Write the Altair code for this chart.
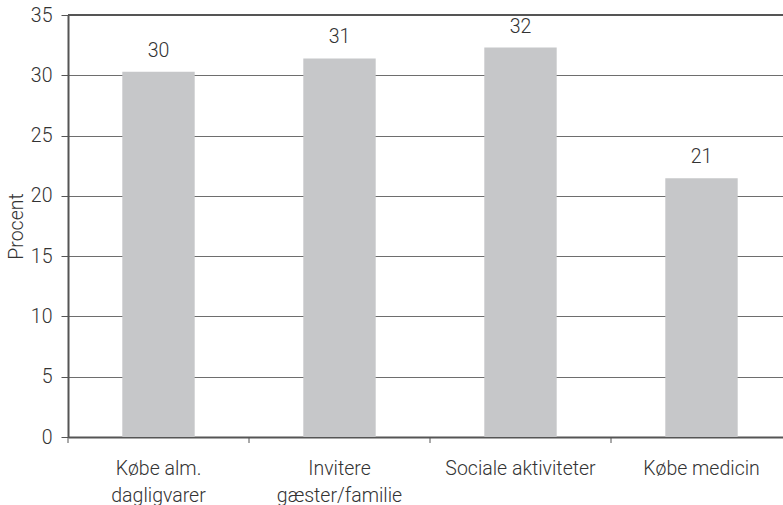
import altair as alt
import pandas as pd

# Share of respondents (percent) per activity
categories = ["Købe alm.\ndagligvarer", "Invitere\ngæster/familie", "Sociale aktiviteter", "Købe medicin"]
values = [30.3, 31.4, 32.3, 21.45]
y_ticks = [0, 5, 10, 15, 20, 25, 30, 35]

df = pd.DataFrame({"aktivitet": categories, "procent": values})

FONT = "Roboto"
WEIGHT = 300
SIZE = 19.5
TEXT = "#333333"
LINE = "#555555"

x_enc = alt.X(
    "aktivitet:N",
    sort=categories,
    scale=alt.Scale(range=[0, 724], paddingInner=0, paddingOuter=0),
    axis=alt.Axis(
        title=None,
        labelAngle=0,
        labelExpr="split(datum.label, '\\n')",
        labelFont=FONT,
        labelFontWeight=WEIGHT,
        labelFontSize=SIZE,
        labelColor=TEXT,
        labelLineHeight=27,
        labelBaseline="top",
        labelPadding=22,
        ticks=False,
        tickSize=0,
        domainColor=LINE,
        domainWidth=2,
        grid=False,
    ),
)

y_enc = alt.Y(
    "procent:Q",
    scale=alt.Scale(domain=[0, 35], nice=False),
    axis=alt.Axis(
        title="Procent",
        titleFont=FONT,
        titleFontSize=SIZE,
        titleFontWeight=WEIGHT,
        titleColor=TEXT,
        titleAngle=-90,
        titleAlign="center",
        titleBaseline="alphabetic",
        titleX=-46,
        titleY=211,
        values=y_ticks,
        labelFont=FONT,
        labelFontWeight=WEIGHT,
        labelFontSize=SIZE,
        labelColor=TEXT,
        labelPadding=9,
        tickSize=7,
        tickColor=LINE,
        tickWidth=1,
        domainColor=LINE,
        domainWidth=2,
        grid=True,
        gridColor="#6e6e6e",
        gridWidth=1,
    ),
)

base = alt.Chart(df)

bars = base.mark_bar(color="#c6c7c9", width=alt.RelativeBandSize(0.4)).encode(x=x_enc, y=y_enc)

labels = base.mark_text(
    font=FONT, fontWeight=WEIGHT, fontSize=SIZE, color=TEXT, baseline="alphabetic", dy=-15
).encode(
    x=alt.X("aktivitet:N", sort=categories),
    y="procent:Q",
    text=alt.Text("procent:Q", format=".0f"),
)

# Category separators below the x axis, at the left edge of each band
ticks = base.mark_rule(color=LINE, strokeWidth=1).encode(
    x=alt.X("aktivitet:N", sort=categories, bandPosition=0),
    y=alt.value(422),
    y2=alt.value(428),
)

# Heavier line along the top of the value range
top_line = alt.Chart(pd.DataFrame({"v": [35]})).mark_rule(color=LINE, strokeWidth=2).encode(
    y=alt.Y("v:Q")
)

chart = (
    alt.layer(bars, ticks, top_line, labels)
    .properties(
        width=715,
        height=422,
        autosize=alt.AutoSizeParams(type="none"),
        padding={"left": 68, "top": 15, "right": 0, "bottom": 68},
    )
    .configure_view(stroke=None)
    .configure(background="white")
)

chart.save("out.html", embed_options={"renderer": "svg", "actions": False})
